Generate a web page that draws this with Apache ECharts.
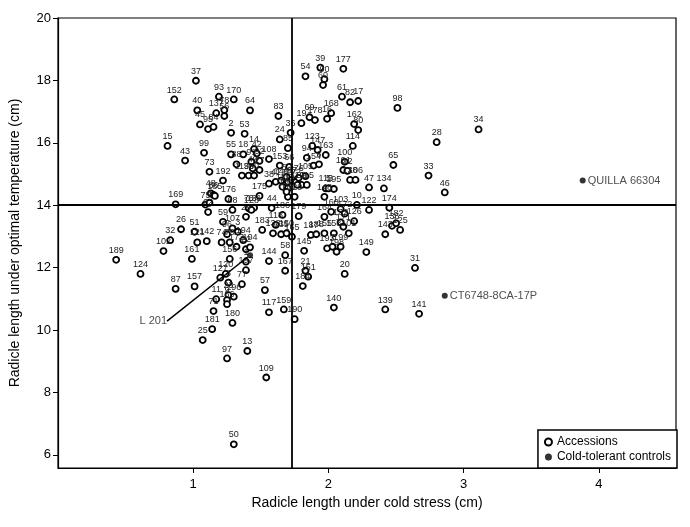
<!DOCTYPE html>
<html>
<head>
<meta charset="utf-8">
<script src="https://cdn.jsdelivr.net/npm/echarts@6/dist/echarts.min.js"></script>
<style>
  html, body { margin: 0; padding: 0; background: #fff; }
  #main { width: 690px; height: 527px; }
</style>
</head>
<body>
<div id="main"></div>
<script>
// accessions (open circles)
const accLabels = ['37','152','93','170','40','137','78','56','45','95','84','2','64','83','54','39','90','60','19','69',
  '178','16','53','36','24','123','177','61','82','17','98','168','162','80','15','99','55','43','73','192',
  '48','86','185','176','169','75','4','62','59','26','51','142','121','32','102','96','74','79','68','18',
  '14','42','108','94','163','147','85','88','91','92','49','27','153','66','154','6','105','119','35','30',
  '38','41','146','52','63','67','72','76','89','110','111','112','175','113','115','116','129','130','70','131',
  '44','186','179','29','128','107','183','118','133','135','150','165','3','194','187','188','155','114','100','191',
  '12','65','138','106','47','134','195','5','148','10','122','174','103','160','172','126','132','171','136','182',
  '125','143','158','101','164','149','161','124','87','157','120','127','156','8','11','23','9','166','71','180',
  '181','25','144','58','167','145','21','151','184','57','77','117','159','190','173','22','104','1','197','196',
  '20','31','140','139','141','193','7','198','199','97','13','109','50','189','34','28','33','46'];
const accX = [1.02,0.86,1.19,1.30,1.03,1.17,1.23,1.23,1.05,1.11,1.15,1.28,1.42,1.63,1.83,1.94,1.97,1.96,1.80,1.86,
  1.90,1.99,1.38,1.72,1.64,1.88,2.11,2.10,2.16,2.22,2.51,2.02,2.19,2.22,0.81,1.08,1.28,0.94,1.12,1.22,
  1.13,1.15,1.16,1.26,0.87,1.09,1.12,1.11,1.22,0.91,1.01,1.10,1.03,0.83,0.78,1.25,1.21,1.27,1.29,1.37,
  1.45,1.47,1.56,1.84,1.98,1.92,1.70,1.32,1.43,1.49,1.44,1.49,1.64,1.71,1.89,1.93,1.83,1.36,1.41,1.45,
  1.56,1.61,1.65,1.69,1.70,1.73,1.76,1.78,1.80,1.77,1.66,1.70,1.49,1.98,1.84,1.70,1.75,1.69,1.41,1.45,
  1.58,1.66,1.78,1.39,1.43,1.29,1.51,1.61,1.59,1.65,1.69,1.73,1.33,1.37,1.87,1.91,1.97,2.18,2.12,2.11,
  2.14,2.48,2.16,2.20,2.30,2.41,2.04,2.00,1.97,2.21,2.30,2.45,2.09,2.02,2.12,2.19,2.09,2.11,2.47,2.50,
  2.53,2.42,2.04,2.15,1.97,2.28,0.99,0.61,0.87,1.01,1.24,1.20,1.27,1.26,1.17,1.26,1.25,1.25,1.15,1.29,
  1.14,1.07,1.56,1.68,1.68,1.82,1.83,1.85,1.81,1.53,1.36,1.56,1.67,1.75,1.32,1.39,1.42,1.39,1.39,1.30,
  2.12,2.64,2.04,2.42,2.67,1.99,2.03,2.06,2.09,1.25,1.40,1.54,1.30,0.43,3.11,2.80,2.74,2.86];
const accY = [17.99,17.39,17.48,17.39,17.04,16.95,17.05,16.86,16.59,16.44,16.51,16.32,17.04,16.86,18.13,18.41,18.04,17.85,16.63,16.82,
  16.73,16.77,16.29,16.32,16.11,15.90,18.37,17.48,17.30,17.34,17.12,16.95,16.60,16.41,15.90,15.68,15.63,15.43,15.07,14.79,
  14.38,14.33,14.30,14.20,14.03,14.02,14.08,13.78,13.47,13.23,13.15,12.85,12.81,12.88,12.53,13.07,12.81,12.81,13.85,15.63,
  15.80,15.66,15.48,15.52,15.61,15.77,15.83,15.31,15.39,15.42,15.18,15.13,15.27,15.23,15.27,15.31,14.93,14.95,14.95,14.95,
  14.69,14.75,14.79,14.91,14.75,14.81,14.75,14.88,14.65,14.65,14.59,14.54,14.30,14.54,14.65,14.27,14.27,14.43,13.90,13.92,
  13.91,13.69,13.65,13.63,13.85,13.26,13.21,13.37,13.10,13.07,13.10,12.99,13.15,12.88,13.05,13.07,13.10,15.90,15.39,15.13,
  15.10,15.29,14.81,14.81,14.57,14.54,14.52,14.54,14.27,14.01,13.85,13.92,13.88,13.79,13.73,13.49,13.45,13.31,13.34,13.42,
  13.21,13.07,13.10,13.10,13.63,12.50,12.28,11.80,11.32,11.40,11.80,11.68,12.28,11.52,10.99,11.12,10.96,10.83,10.61,10.23,
  10.03,9.68,12.21,12.40,11.90,12.54,11.90,11.71,11.41,11.28,11.47,10.57,10.66,10.35,12.67,12.59,12.65,12.19,11.92,11.07,
  11.80,11.99,10.72,10.66,10.52,12.62,12.67,12.51,12.67,9.09,9.33,8.48,6.34,12.25,16.43,16.02,14.95,14.41];

// cold-tolerant controls (filled dots)
const ctlNames = ['QUILLA 66304', 'CT6748-8CA-17P', 'L 201'];
const ctlX = [3.88, 2.86, 1.42];
const ctlY = [14.79, 11.10, 12.40];

// reference lines
const coldMean = 1.726;
const optMean = 14.03;

const xTicks = [1, 2, 3, 4];
const yTicks = [6, 8, 10, 12, 14, 16, 18, 20];

const FONT = 'Liberation Sans, Arial, sans-serif';

const accData = accX.map((x, i) => [x, accY[i], accLabels[i]]);
const ctlData = ctlX.map((x, i) => {
  const item = { value: [x, ctlY[i], ctlNames[i]] };
  if (ctlNames[i] === 'L 201') {
    item.label = { position: 'left' };
    item.labelLine = { show: true };
  }
  return item;
});

const myChart = echarts.init(document.getElementById('main'));

const option = {
  animation: false,
  backgroundColor: '#fff',
  textStyle: { fontFamily: FONT },
  grid: {
    left: 51, right: 14, top: 18, bottom: 59,
    show: true, borderColor: '#000', borderWidth: 1.2
  },
  legend: {
    orient: 'vertical',
    right: 13, bottom: 59,
    padding: [6, 6, 5, 6],
    itemGap: 3,
    itemWidth: 7, itemHeight: 7,
    borderColor: '#000', borderWidth: 1.5,
    backgroundColor: '#fff',
    textStyle: { fontFamily: FONT, fontSize: 12, color: '#000' },
    data: [
      { name: 'Accessions', icon: 'circle', itemStyle: { color: '#fff', borderColor: '#000', borderWidth: 2 } },
      { name: 'Cold-tolerant controls', icon: 'circle', itemStyle: { color: '#000', borderWidth: 0 } }
    ]
  },
  xAxis: {
    type: 'value', min: 0, max: 4.57,
    name: 'Radicle length under cold stress (cm)',
    nameLocation: 'middle', nameGap: 28,
    nameTextStyle: { fontFamily: FONT, fontSize: 14, color: '#000' },
    axisLine: { show: true, lineStyle: { color: '#000', width: 1.2 } },
    axisTick: { show: true, length: 5, customValues: xTicks, lineStyle: { color: '#000' } },
    axisLabel: { customValues: xTicks, fontFamily: FONT, fontSize: 13, color: '#000', margin: 10 },
    splitLine: { show: false }
  },
  yAxis: {
    type: 'value', min: 5.58, max: 20,
    name: 'Radicle length under optimal temperature (cm)',
    nameLocation: 'middle', nameGap: 36,
    nameTextStyle: { fontFamily: FONT, fontSize: 14, color: '#000' },
    axisLine: { show: true, lineStyle: { color: '#000', width: 1.2 } },
    axisTick: { show: true, length: 5, customValues: yTicks, lineStyle: { color: '#000' } },
    axisLabel: { customValues: yTicks, fontFamily: FONT, fontSize: 13, color: '#000', margin: 7 },
    splitLine: { show: false }
  },
  series: [
    {
      name: 'Accessions',
      type: 'scatter',
      symbol: 'circle',
      symbolSize: 6,
      itemStyle: { color: '#fff', borderColor: '#000', borderWidth: 1.8, opacity: 1 },
      label: {
        show: true, position: 'top', distance: 1,
        formatter: p => p.data[2],
        fontFamily: FONT, fontSize: 9, color: '#222'
      },
      data: accData,
      markLine: {
        silent: true,
        symbol: 'none',
        label: { show: false },
        lineStyle: { color: '#000', width: 1.8, type: 'solid' },
        data: [{ xAxis: coldMean }, { yAxis: optMean }]
      },
      z: 3
    },
    {
      name: 'Cold-tolerant controls',
      type: 'scatter',
      symbol: 'circle',
      symbolSize: 6,
      itemStyle: { color: '#000' },
      label: {
        show: true, position: 'right', distance: 2,
        formatter: p => p.data.value[2],
        fontFamily: FONT, fontSize: 11, color: '#222'
      },
      labelLine: { show: false, lineStyle: { color: '#000', width: 1.5 } },
      labelLayout: function (params) {
        if (params.dataIndex === 2) return { dx: -78, dy: 66 };
        return {};
      },
      data: ctlData,
      z: 4
    }
  ]
};

myChart.setOption(option);
</script>
</body>
</html>
